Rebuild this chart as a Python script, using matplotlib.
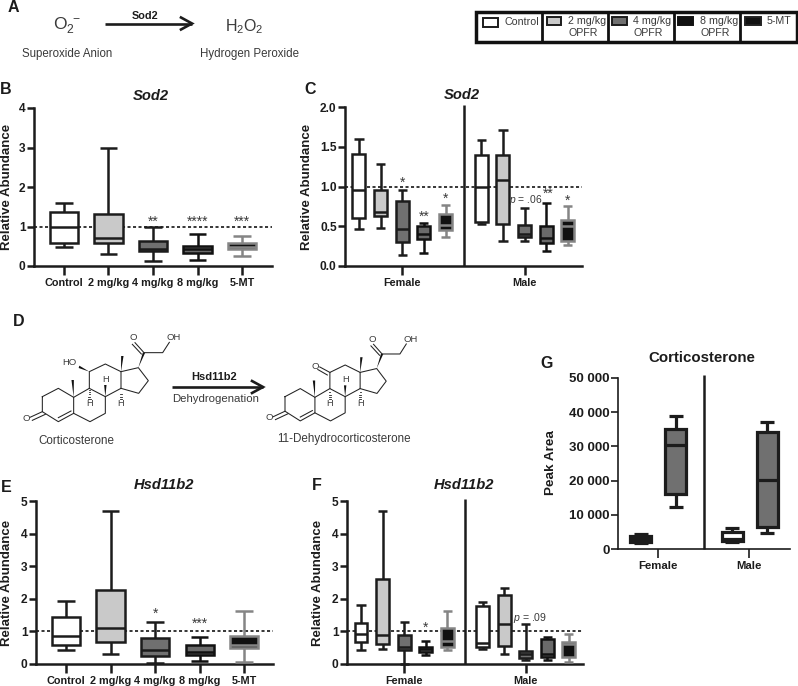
import matplotlib
matplotlib.use("Agg")
import matplotlib.pyplot as plt
from matplotlib.patches import Rectangle, Polygon
import numpy as np

plt.rcParams['font.family'] = ['Liberation Sans', 'DejaVu Sans']
plt.rcParams['mathtext.fontset'] = 'custom'
plt.rcParams['mathtext.rm'] = 'Liberation Sans'
plt.rcParams['mathtext.it'] = 'Liberation Sans:italic'
plt.rcParams['mathtext.bf'] = 'Liberation Sans:bold'

W, H = 798, 686
DARK = '#1c1c1c'
TXT = '#3a3a3a'

# data: (low whisker, q1, median, q3, high whisker)
dose_labels = ['Control', '2 mg/kg', '4 mg/kg', '8 mg/kg', '5-MT']
group_labels = ['Female', 'Male']

sod2_all = [(0.47, 0.57, 1.00, 1.37, 1.60), (0.31, 0.58, 0.70, 1.32, 3.00),
            (0.13, 0.37, 0.43, 0.64, 0.98), (0.15, 0.33, 0.43, 0.50, 0.80),
            (0.25, 0.42, 0.48, 0.58, 0.77)]
sod2_female = [(0.47, 0.61, 0.955, 1.41, 1.60), (0.48, 0.63, 0.68, 0.96, 1.28),
               (0.14, 0.30, 0.46, 0.82, 0.96), (0.165, 0.34, 0.40, 0.50, 0.54),
               (0.36, 0.45, 0.51, 0.66, 0.77)]
sod2_male = [(0.53, 0.55, 1.00, 1.40, 1.58), (0.31, 0.53, 1.08, 1.39, 1.71),
             (0.31, 0.37, 0.40, 0.52, 0.73), (0.19, 0.29, 0.35, 0.50, 0.79),
             (0.26, 0.32, 0.50, 0.58, 0.76)]
hsd_all = [(0.42, 0.59, 0.85, 1.43, 1.92), (0.30, 0.66, 1.10, 2.28, 4.70),
           (0.02, 0.26, 0.42, 0.79, 1.30), (0.10, 0.27, 0.38, 0.59, 0.83),
           (0.05, 0.49, 0.58, 0.87, 1.63)]
hsd_female = [(0.42, 0.69, 0.92, 1.27, 1.82), (0.45, 0.62, 0.90, 2.60, 4.70),
              (0.00, 0.43, 0.52, 0.90, 1.28), (0.27, 0.36, 0.46, 0.52, 0.72),
              (0.43, 0.52, 0.72, 1.10, 1.63)]
hsd_male = [(0.47, 0.53, 0.65, 1.79, 1.90), (0.30, 0.55, 1.22, 2.13, 2.33),
            (0.12, 0.19, 0.32, 0.39, 1.22), (0.12, 0.22, 0.30, 0.77, 0.82),
            (0.05, 0.20, 0.62, 0.69, 0.92)]
cort_female = [(1900, 2000, 2800, 3700, 4400), (12200, 16200, 30500, 35000, 38900)]
cort_male = [(2000, 2300, 3000, 5000, 6200), (4800, 6300, 20200, 34300, 37000)]

# style per dose: edge, fill
styles = [(DARK, 'white'), (DARK, '#c9c9c9'), (DARK, '#707070'), ('#111111', '#6a6a6a'), ('#858585', '#111111')]
cort_styles = [(DARK, 'white'), (DARK, '#707070')]

fig = plt.figure(figsize=(W / 100, H / 100), dpi=100, facecolor='white')


def px_axes(l, r, t, b):
    ax = fig.add_axes([l / W, 1 - b / H, (r - l) / W, (b - t) / H])
    ax.patch.set_alpha(0)
    for s in ('top', 'right'):
        ax.spines[s].set_visible(False)
    return ax


def boxes(ax, stats, positions, sty, width, cap, lw=1.8):
    for st, pos, (ec, fc) in zip(stats, positions, sty):
        d = dict(whislo=st[0], q1=st[1], med=st[2], q3=st[3], whishi=st[4], fliers=[])
        art = ax.bxp([d], positions=[pos], widths=[width], capwidths=[cap], patch_artist=True,
                     showfliers=False, manage_ticks=False, zorder=3,
                     boxprops=dict(edgecolor=ec, facecolor=fc, linewidth=lw),
                     medianprops=dict(color=ec, linewidth=lw),
                     whiskerprops=dict(color=ec, linewidth=lw),
                     capprops=dict(color=ec, linewidth=lw))
        for k in ('whiskers', 'caps', 'medians'):
            for a in art[k]:
                a.set_clip_on(False)
                a.set_solid_capstyle('butt')
        # whiskers sit behind the box
        for a in art['whiskers']:
            a.set_zorder(2.5)


def finish(ax, xlim, ylim, yticks, yticklabels, xticks, xticklabels, xfs=7.8, yfs=8.6, lw=1.8):
    ax.set_xlim(*xlim)
    ax.set_ylim(*ylim)
    ax.set_yticks(yticks, yticklabels, fontsize=yfs, fontweight='bold', color=DARK)
    ax.set_xticks(xticks, xticklabels, fontsize=xfs, fontweight='bold', color=DARK)
    ax.tick_params(axis='y', length=5, width=lw, pad=1, color=DARK)
    ax.tick_params(axis='x', length=6.5, width=lw, pad=2, color=DARK)
    for s in ('left', 'bottom'):
        ax.spines[s].set_linewidth(lw)
        ax.spines[s].set_color(DARK)


def refline(ax):
    ax.axhline(1, color='black', lw=1.1, ls=(0, (2, 1.6)), zorder=1)


def stars(ax, items, fs=10):
    for x, y, s in items:
        ax.text(x, y, s, ha='center', va='center', fontsize=fs, color=TXT, zorder=5)


def divider(ax, x, lw=1.8):
    ax.plot([x, x], [0, 1.015], transform=ax.get_xaxis_transform(), color=DARK, lw=lw, clip_on=False, zorder=4,
            solid_capstyle='butt')


# Panel B
ax = px_axes(34, 272, 108, 266)
refline(ax)
boxes(ax, sod2_all, range(5), styles, 0.63, 0.40)
finish(ax, (-0.674, 4.674), (0, 4), range(5), [str(i) for i in range(5)], range(5), dose_labels)
stars(ax, [(2, 1.13, '**'), (3, 1.11, '****'), (4, 1.11, '***')])

# Panel C
pos_f = np.arange(5)
pos_m = np.arange(5) + 5.65
ax = px_axes(345, 582, 107, 266)
refline(ax)
boxes(ax, sod2_female, pos_f, styles, 0.6, 0.42)
boxes(ax, sod2_male, pos_m, styles, 0.6, 0.42)
finish(ax, (-0.646, 10.3), (0, 2), np.arange(0, 2.1, 0.5), ['0.0', '0.5', '1.0', '1.5', '2.0'], [2, 7.65], group_labels)
divider(ax, 4.85)
stars(ax, [(2, 1.05, '*'), (3, 0.62, '**'), (4, 0.85, '*'), (8.72, 0.91, '**'), (9.65, 0.82, '*')])
ax.text(7.68, 0.83, r'$\mathit{p}$ = .06', ha='center', va='center', fontsize=7.4, color=TXT, zorder=5)

# Panel E
ax = px_axes(36, 273, 501, 664)
refline(ax)
boxes(ax, hsd_all, range(5), styles, 0.63, 0.40)
finish(ax, (-0.674, 4.65), (0, 5), range(6), [str(i) for i in range(6)], range(5), dose_labels)
stars(ax, [(2, 1.55, '*'), (3, 1.22, '***')])

# Panel F
ax = px_axes(347, 583, 501, 664)
refline(ax)
boxes(ax, hsd_female, pos_f, styles, 0.6, 0.42)
boxes(ax, hsd_male, pos_m - 0.02, styles, 0.6, 0.42)
finish(ax, (-0.648, 10.28), (0, 5), range(6), [str(i) for i in range(6)], [2, 7.63], group_labels)
divider(ax, 4.81)
stars(ax, [(3, 1.12, '*')])
ax.text(7.82, 1.40, r'$\mathit{p}$ = .09', ha='center', va='center', fontsize=7.6, color=TXT, zorder=5)

# Panel G
ax = px_axes(618, 790, 378, 549)
boxes(ax, cort_female, [0, 1], cort_styles, 0.6, 0.38, lw=2.3)
boxes(ax, cort_male, [2.6, 3.6], cort_styles, 0.6, 0.38, lw=2.3)
finish(ax, (-0.657, 4.257), (0, 50000), range(0, 50001, 10000),
       ['0', '10 000', '20 000', '30 000', '40 000', '50 000'], [0.486, 3.086], group_labels,
       xfs=8.2, yfs=9.5, lw=1.2)
divider(ax, 1.8, lw=1.8)

# Overlay in pixel coordinates: labels, schemes, legend
ov = fig.add_axes([0, 0, 1, 1], zorder=10)
ov.set_xlim(0, W)
ov.set_ylim(H, 0)
ov.axis('off')


def T(x, y, s, fs=8.4, **kw):
    kw.setdefault('ha', 'center')
    kw.setdefault('va', 'center')
    kw.setdefault('color', TXT)
    ov.text(x, y, s, fontsize=fs, **kw)


for x, y, s in [(13, 7, 'A'), (5.5, 89, 'B'), (310, 89, 'C'), (19, 322, 'D'), (6.5, 487, 'E'), (317, 485, 'F'), (547, 363, 'G')]:
    T(x, y, s, fs=11.5, fontweight='bold', color=DARK)
for x, y, s in [(151, 96, 'Sod2'), (462, 95, 'Sod2'), (164, 485, 'Hsd11b2'), (464, 485, 'Hsd11b2')]:
    T(x, y, s, fs=10.6, fontweight='bold', style='italic', color=DARK)
T(702, 358, 'Corticosterone', fs=10.8, fontweight='bold', color=DARK)
for x, y in [(7.5, 187), (307, 187), (7.5, 583), (318, 583)]:
    T(x, y, 'Relative Abundance', fs=9.5, fontweight='bold', rotation=90, color=DARK)
T(551, 463, 'Peak Area', fs=9.7, fontweight='bold', rotation=90, color=DARK)


def arrow(x0, x1, y):
    ov.plot([x0, x1], [y, y], color=DARK, lw=1.9, solid_capstyle='butt')
    ov.plot([x1 - 11, x1, x1 - 11], [y - 6, y, y + 6], color=DARK, lw=1.9, solid_joinstyle='miter')


# Scheme A
T(67, 26, r'$\mathrm{O_2^{\ -}}$', fs=12.5)
T(244, 27, r'$\mathrm{H_2O_2}$', fs=11.5)
T(67, 53.5, 'Superoxide Anion', fs=8.3)
T(249, 53.5, 'Hydrogen Peroxide', fs=8.3)
T(145, 16, 'Sod2', fs=7.8, fontweight='bold', color=DARK)
arrow(105, 192, 23.5)

# Legend
ov.add_patch(Rectangle((476, 12), 321, 30, fc='white', ec='#111111', lw=2.5))
for x in (542, 608, 674, 740):
    ov.plot([x, x], [12, 42], color='#111111', lw=2.0)
for (x0, x1, y0, y1), (ec, fc) in zip([(483, 498, 18, 26.5), (547, 561, 17, 24.5), (612, 627, 17, 24.5), (678, 693, 17, 24.5), (745, 761, 17, 25)],
                                      [styles[0], styles[1], styles[2], ('#111111', '#111111'), ('#222222', '#111111')]):
    ov.add_patch(Rectangle((x0, y0), x1 - x0, y1 - y0, fc=fc, ec=ec, lw=1.4))
T(522, 22, 'Control', fs=7.7)
T(779, 21, '5-MT', fs=7.7)
for xa, xb, s in [(587, 583, '2 mg/kg'), (652, 648, '4 mg/kg'), (719, 715, '8 mg/kg')]:
    T(xa, 21, s, fs=7.7)
    T(xb, 33, 'OPFR', fs=7.7)

# Steroid skeleton, coordinates in a local drawing frame
rings = [[(127, 290), (175, 265), (221, 292), (221, 340), (175, 365), (127, 335), (127, 290)],
         [(221, 292), (268, 265), (316, 290), (316, 340), (270, 365), (221, 340)],
         [(268, 265), (268, 215), (316, 192), (363, 215), (363, 265), (316, 290)],
         [(363, 215), (415, 203), (445, 242), (416, 280), (363, 265)],
         [(432, 158), (488, 158), (508, 127)]]
wedges = [((363, 215), (367, 168)), ((221, 292), (218, 240)), ((415, 203), (432, 158)), ((316, 290), (316, 255))]
hashes = [((268, 265), (268, 297)), ((363, 265), (363, 297))]
doubles = [((175, 353), (213, 333)), ((127, 335), (90, 352)), ((136, 343), (97, 361)),
           ((432, 158), (405, 128)), ((424, 162), (397, 133))]


def steroid(fx, fy, keto):
    for r in rings:
        ov.plot([fx(p[0]) for p in r], [fy(p[1]) for p in r], color='#222222', lw=0.75, solid_joinstyle='miter')
    for a, b in doubles:
        ov.plot([fx(a[0]), fx(b[0])], [fy(a[1]), fy(b[1])], color='#222222', lw=0.75)
    for a, b in wedges:
        ov.add_patch(Polygon([(fx(a[0]), fy(a[1])), (fx(b[0]) - 1.2, fy(b[1])), (fx(b[0]) + 1.2, fy(b[1]))], fc='#111111', ec='none'))
    for a, b in hashes:
        for t in np.linspace(0.15, 1, 5):
            xm, ym = fx(a[0]), fy(a[1] + (b[1] - a[1]) * t)
            ov.plot([xm - 1.3 * t, xm + 1.3 * t], [ym, ym], color='#222222', lw=0.6)
    T(fx(78), fy(355), 'O', fs=6.8)
    T(fx(401), fy(113), 'O', fs=6.8)
    T(fx(522), fy(112), 'OH', fs=6.8)
    T(fx(316), fy(237), 'H', fs=6.6)
    T(fx(268), fy(310), 'H', fs=6.6)
    T(fx(363), fy(310), 'H', fs=6.6)
    if keto:
        ov.plot([fx(268), fx(236)], [fy(215), fy(198)], color='#222222', lw=0.75)
        ov.plot([fx(260), fx(230)], [fy(223), fy(206)], color='#222222', lw=0.75)
        T(fx(222), fy(197), 'O', fs=6.8)
    else:
        ov.add_patch(Polygon([(fx(268), fy(215)), (fx(238), fy(197)), (fx(236), fy(204))], fc='#111111', ec='none'))
        T(fx(207), fy(188), 'HO', fs=6.8)


steroid(lambda x: x / 3, lambda y: 300 + y / 3, False)
steroid(lambda x: (855 + (x - 127) * 0.955) / 3, lambda y: 300 + (290 + (y - 290) * 0.97) / 3, True)
T(76, 441, 'Corticosterone', fs=8.4)
T(344, 439, '11-Dehydrocorticosterone', fs=8.4)
T(214, 377, 'Hsd11b2', fs=8.0, fontweight='bold', color=DARK)
T(216, 399.5, 'Dehydrogenation', fs=8.2)
arrow(172, 263, 387)

fig.savefig('out.png', dpi=100)
